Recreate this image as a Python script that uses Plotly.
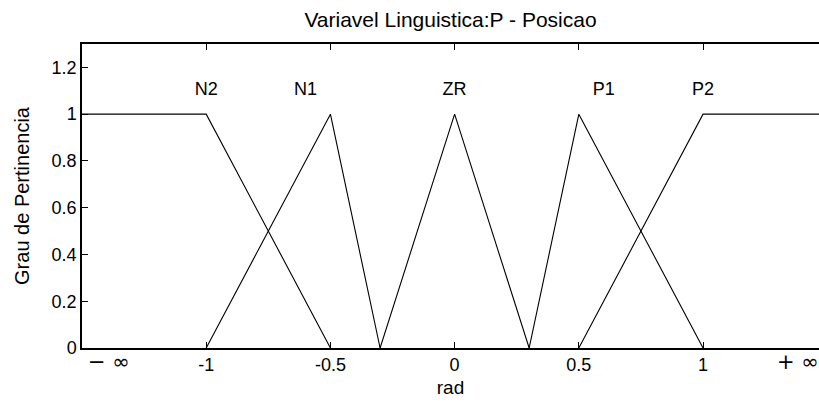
import plotly.graph_objects as go

# Membership functions of the linguistic variable P (position, rad)
mf_names = ["N2", "N1", "ZR", "P1", "P2"]
mf_types = ["trap", "tri", "tri", "tri", "trap"]
mf_params = [
    [-1.5, -1.5, -1.0, -0.5],
    [-1.0, -0.5, -0.3],
    [-0.3, 0.0, 0.3],
    [0.3, 0.5, 1.0],
    [0.5, 1.0, 1.5, 1.5],
]
# label anchor positions for each function name
label_x = [-1.0, -0.6, 0.0, 0.6, 1.0]
label_y = [1.1, 1.1, 1.1, 1.1, 1.1]

x_tick_vals = [-1, -0.5, 0, 0.5, 1]
x_tick_text = ["-1", "-0.5", "0", "0.5", "1"]
inf_labels = ["\u2212 \u221e", "+ \u221e"]
inf_label_x = [-1.39, 1.384]
y_tick_vals = [0, 0.2, 0.4, 0.6, 0.8, 1.0, 1.2]
y_tick_text = ["0", "0.2", "0.4", "0.6", "0.8", "1", "1.2"]

FONT = "Liberation Sans, Arial, sans-serif"

fig = go.Figure()

for name, kind, p in zip(mf_names, mf_types, mf_params):
    if kind == "tri":
        xs = [p[0], p[1], p[2]]
        ys = [0, 1, 0]
    else:
        xs = [p[0], p[1], p[2], p[3]]
        ys = [0 if p[0] != p[1] else 1, 1, 1, 0 if p[2] != p[3] else 1]
    fig.add_trace(go.Scatter(x=xs, y=ys, mode="lines", name=name,
                             line=dict(color="black", width=1.1),
                             hoverinfo="skip", showlegend=False))

fig.add_trace(go.Scatter(x=label_x, y=label_y, mode="text", text=mf_names,
                         textfont=dict(family=FONT, size=18, color="black"),
                         textposition="middle center", showlegend=False,
                         hoverinfo="skip", cliponaxis=False))

for txt, xv in zip(inf_labels, inf_label_x):
    fig.add_annotation(x=xv, y=0, xref="x", yref="y", text=txt, showarrow=False,
                       yanchor="middle", yshift=-14,
                       font=dict(family="DejaVu Sans, sans-serif", size=21, color="black"))

axis_common = dict(showline=True, linecolor="black", linewidth=1.5,
                   ticks="inside", ticklen=6, tickcolor="black", tickwidth=1,
                   showgrid=False, zeroline=False,
                   tickfont=dict(family=FONT, size=18, color="black"))

fig.update_xaxes(range=[-1.5, 1.4668], tickvals=x_tick_vals, ticktext=x_tick_text,
                 mirror="ticks",
                 title=dict(text="rad", font=dict(family=FONT, size=19, color="black"),
                            standoff=6),
                 **axis_common)
fig.update_yaxes(range=[0, 1.3], tickvals=y_tick_vals, ticktext=y_tick_text,
                 mirror=False,
                 title=dict(text="Grau de Pertinencia",
                            font=dict(family=FONT, size=20, color="black"), standoff=17),
                 **axis_common)

fig.update_layout(
    width=819, height=403,
    margin=dict(l=82, r=0, t=44, b=55),
    paper_bgcolor="white", plot_bgcolor="white",
    title=dict(text="Variavel Linguistica:P - Posicao", x=0.5, xref="paper",
               y=1 - 20 / 403, yref="container", yanchor="middle", xanchor="center",
               font=dict(family=FONT, size=21, color="black")),
)

fig.write_html("out.html")
